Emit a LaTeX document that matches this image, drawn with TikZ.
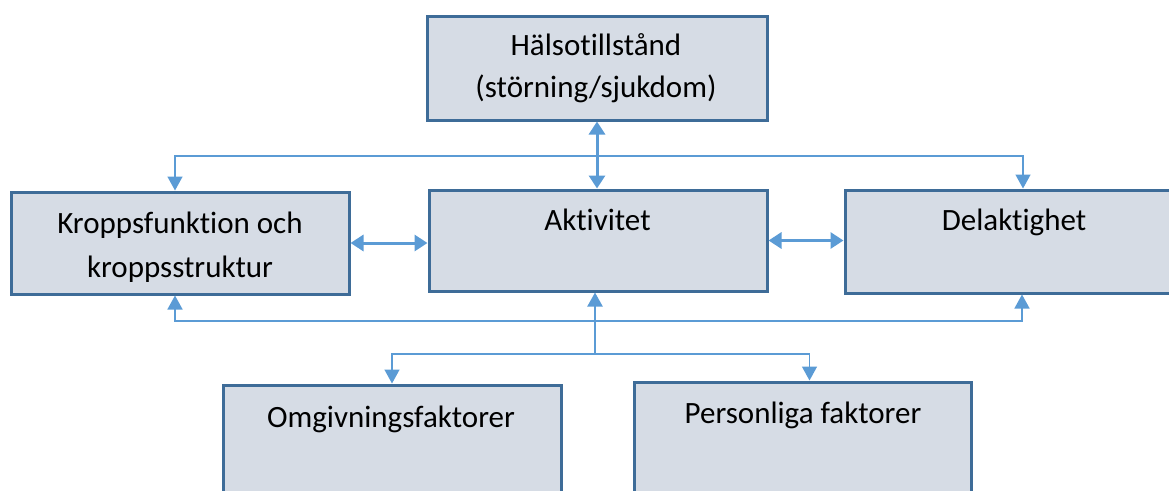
\documentclass[tikz,border=0pt]{standalone}
\usepackage{fontspec}
\setmainfont{Carlito}[Ligatures={NoCommon}]
\usetikzlibrary{arrows.meta}
\definecolor{boxfill}{RGB}{214,220,229}
\definecolor{boxline}{RGB}{62,108,152}
\definecolor{arr}{RGB}{91,155,213}
\begin{document}
\begin{tikzpicture}[x=1pt,y=-1pt,
  box/.style={draw=boxline, line width=3pt, fill=boxfill, inner sep=0pt},
  lbl/.style={anchor=base, inner sep=0pt, font=\fontsize{31}{36}\selectfont},
  thinconn/.style={draw=arr, line width=1.5pt},
  midconn/.style={draw=arr, line width=2.2pt},
  tip/.style={-{Triangle[width=15pt,length=14pt]}},
  dbl/.style={draw=arr, line width=3pt, {Triangle[width=16pt,length=13pt]}-{Triangle[width=16pt,length=13pt]}},
]
\useasboundingbox (0,0) rectangle (1169,490);
\clip (0,0) rectangle (1169,490);

% boxes
\node[box, minimum width=340pt, minimum height=104pt] (h) at (597,68) {};
\node[box, minimum width=338pt, minimum height=102pt] (k) at (180,243) {};
\node[box, minimum width=338pt, minimum height=101pt] (a) at (598,240.5) {};
\node[box, minimum width=325pt, minimum height=103pt] (d) at (1007.5,241.5) {};
\node[box, minimum width=338pt, minimum height=135pt] (o) at (392,452.5) {};
\node[box, minimum width=337pt, minimum height=138pt] (p) at (802.5,451) {};

% labels
\node[lbl] (ht1) at (596,55) {Hälsotillstånd};
\node[lbl] (ht2) at (596,97) {(störning/sjukdom)};
\node[lbl] (kt1) at (180,233) {Kroppsfunktion och};
\node[lbl] (kt2) at (180,277) {kroppsstruktur};
\node[lbl] (at) at (597.5,230) {Aktivitet};
\node[lbl] (dt) at (1014,230) {Delaktighet};
\node[lbl] (ot) at (391,427) {Omgivningsfaktorer};
\node[lbl] (pt) at (803,423) {Personliga faktorer};

% coordinates for connector junctions
\coordinate (topM) at (597,156);
\coordinate (botM) at (597,321);
\coordinate (br) at (595,354);

% connectors
\draw[dbl] (h.south) -- (h.south |- a.north);
\draw[dbl] (k.east) -- (k.east -| a.west);
\draw[dbl] (a.east) -- (a.east -| d.west);

\draw[thinconn, tip] (topM) -| ([xshift=-5pt]k.north);
\draw[thinconn, tip] (topM) -| ([xshift=15.5pt]d.north);
\draw[thinconn, tip] (botM) -| ([xshift=-5pt]k.south);
\draw[thinconn, tip] (botM) -| ([xshift=14.5pt]d.south);

\draw[midconn, tip] (br) -- (br |- a.south);
\draw[thinconn, tip] (br) -| (o.north);
\draw[thinconn, tip] (br) -| ([xshift=7pt]p.north);
\end{tikzpicture}
\end{document}
